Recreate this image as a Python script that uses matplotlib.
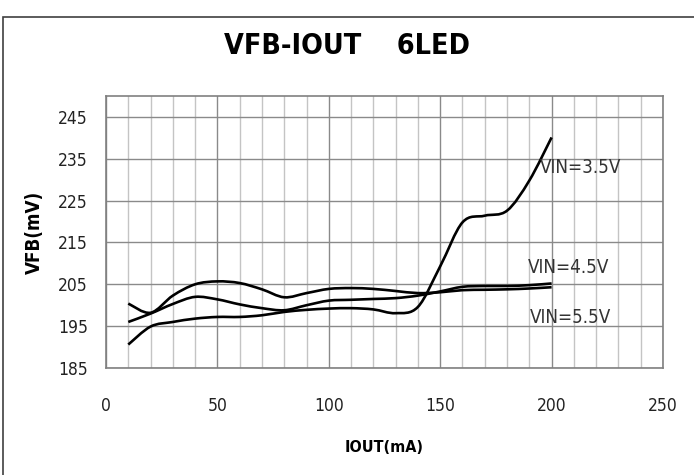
import matplotlib
matplotlib.use("Agg")
import matplotlib.pyplot as plt
from matplotlib.path import Path
from matplotlib.patches import PathPatch, Rectangle
from matplotlib.ticker import MultipleLocator
import numpy as np

IOUT = [10, 20, 30, 40, 50, 60, 70, 80, 90, 100, 110, 120, 130, 140, 150, 160, 170, 180, 190, 200]
VFB_35 = [190.6, 194.9, 196.0, 196.8, 197.2, 197.2, 197.6, 198.4, 198.9, 199.2, 199.3, 199.0,
          198.1, 199.6, 209.3, 219.8, 221.4, 222.6, 229.8, 240.1]
VFB_45 = [196.0, 198.0, 200.3, 202.0, 201.4, 200.2, 199.3, 198.8, 200.0, 201.1, 201.3, 201.5,
          201.7, 202.3, 203.3, 204.4, 204.6, 204.6, 204.8, 205.2]
VFB_55 = [200.4, 198.2, 202.3, 205.0, 205.7, 205.3, 203.8, 201.9, 202.9, 203.9, 204.1, 203.9,
          203.4, 202.9, 203.1, 203.6, 203.7, 203.8, 204.0, 204.3]
LABELS = [("VIN=3.5V", 194.8, 232.9), ("VIN=4.5V", 189.5, 209.0), ("VIN=5.5V", 190.3, 197.0)]

FONT = ["DejaVu Sans"]
STRETCH = "condensed"


def smooth_path(xs, ys):
    # excel style smoothed line: catmull-rom segments as cubic beziers
    pts = np.column_stack([xs, ys]).astype(float)
    verts = [pts[0]]
    codes = [Path.MOVETO]
    n = len(pts)
    for i in range(n - 1):
        p0 = pts[i - 1] if i > 0 else pts[i]
        p1 = pts[i]
        p2 = pts[i + 1]
        p3 = pts[i + 2] if i + 2 < n else pts[i + 1]
        c1 = p1 + (p2 - p0) / 6.0
        c2 = p2 - (p3 - p1) / 6.0
        verts.extend([c1, c2, p2])
        codes.extend([Path.CURVE4] * 3)
    return Path(verts, codes)


fig = plt.figure(figsize=(6.94, 4.75), dpi=100)
fig.patches.append(Rectangle((3 / 694, -0.1), 1.2, (475 - 17) / 475 + 0.1, transform=fig.transFigure,
                             fill=False, edgecolor="#404040", linewidth=1.2))
ax = fig.add_axes([106 / 694, 107 / 475, 557 / 694, 272 / 475])

ax.set_xlim(0, 250)
ax.set_ylim(185, 250)
ax.xaxis.set_major_locator(MultipleLocator(50))
ax.xaxis.set_minor_locator(MultipleLocator(10))
ax.set_yticks(np.arange(185, 246, 10))
ax.grid(which="minor", axis="x", color="#c4c4c4", linewidth=1.0)
ax.grid(which="major", axis="x", color="#8a8a8a", linewidth=1.0)
ax.grid(which="major", axis="y", color="#8a8a8a", linewidth=1.0)
ax.set_axisbelow(True)
ax.tick_params(which="both", length=0, labelsize=12.5, labelcolor="#222222")
ax.tick_params(axis="x", pad=21)
ax.tick_params(axis="y", pad=13)
for lbl in ax.get_xticklabels() + ax.get_yticklabels():
    lbl.set_family(FONT)
    lbl.set_fontstretch(STRETCH)
for sp in ax.spines.values():
    sp.set_color("#808080")
    sp.set_linewidth(1.2)

for ys in (VFB_35, VFB_45, VFB_55):
    ax.add_patch(PathPatch(smooth_path(IOUT, ys), fill=False, edgecolor="black", linewidth=1.9))

for text, x, y in LABELS:
    ax.text(x, y, text, fontsize=13.5, family=FONT, fontstretch=STRETCH, color="#333333",
            ha="left", va="center")

ax.set_xlabel("IOUT(mA)", fontsize=11.5, fontweight="bold", family=FONT, fontstretch=STRETCH, labelpad=18)
ax.set_ylabel("VFB(mV)", fontsize=13.5, fontweight="bold", family=FONT, fontstretch=STRETCH, labelpad=10)
fig.text(347 / 694, 1 - 46 / 475, "VFB-IOUT    6LED", fontsize=20.5, fontweight="bold", family=FONT,
         fontstretch=STRETCH, ha="center", va="center")

fig.savefig("out.png", dpi=100)
